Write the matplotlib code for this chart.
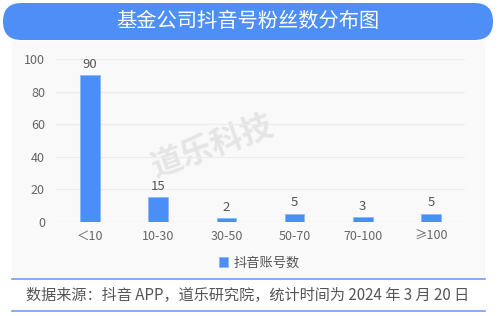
import matplotlib
matplotlib.use("Agg")
import matplotlib.pyplot as plt
from matplotlib.patches import FancyBboxPatch, Rectangle

plt.rcParams['font.family'] = ['Noto Sans CJK SC', 'DejaVu Sans']

categories = ['＜10', '10-30', '30-50', '50-70', '70-100', '≥100']
values = [90, 15, 2, 5, 3, 5]
yticks = [0, 20, 40, 60, 80, 100]
title = '基金公司抖音号粉丝数分布图'
series_name = '抖音账号数'
source = '数据来源：抖音 APP，道乐研究院，统计时间为 2024 年 3 月 20 日'
watermark = '道乐科技'

W, H = 500, 316
fig = plt.figure(figsize=(W/100, H/100), dpi=100)
fig.patch.set_facecolor('white')

def fx(px): return px / W
def fy(py): return 1 - py / H

# background layer in pixel coordinates
bg = fig.add_axes([0, 0, 1, 1], zorder=0)
bg.set_xlim(0, W)
bg.set_ylim(H, 0)
bg.axis('off')
bg.add_patch(Rectangle((12, 41), 473, 238, facecolor='#f9f9f9', edgecolor='none'))
bg.add_patch(FancyBboxPatch((3, 3), 490, 37,
                            boxstyle='round,pad=0,rounding_size=18.5',
                            facecolor='#4d8ff6', edgecolor='none'))
bg.text(248, 21.5, title, color='white', fontsize=14.6, ha='center', va='center')
bg.text(212, 147, watermark, rotation=20, fontsize=23, fontweight='bold', color='#e5e5e5',
        ha='center', va='center')
bg.plot([12, 485], [279, 279], color='#6aa2f5', linewidth=1.2)
bg.plot([12, 485], [311, 311], color='#6aa2f5', linewidth=1.2)
bg.text(247.5, 295.5, source, ha='center', va='center', fontsize=10.9, color='#555555')

ax = fig.add_axes([fx(56), fy(221.7), fx(465) - fx(56), fy(59) - fy(221.7)], zorder=1)
ax.set_facecolor('none')
x = list(range(len(categories)))
bars = ax.bar(x, values, width=0.29, color='#4b8ef7', edgecolor='#8fb8fb', linewidth=0.6,
              label=series_name, zorder=3)
for xi, v in zip(x, values):
    ax.text(xi, v + 2.5, str(v), ha='center', va='bottom', fontsize=9.5, color='#555555')
ax.set_xlim(-0.5, len(categories) - 0.5)
ax.set_ylim(0, 100)
ax.set_yticks(yticks)
ax.set_xticks(x)
ax.set_xticklabels(categories)
ax.tick_params(axis='both', length=0, labelsize=9, colors='#666666')
ax.tick_params(axis='y', pad=8)
ax.tick_params(axis='x', pad=6)
ax.grid(axis='y', color='#ececec', linewidth=0.8, zorder=0)
for s in ax.spines.values():
    s.set_visible(False)
ax.axhline(0, color='#e0e0e0', linewidth=0.8, zorder=2)

fig.legend(handles=[bars], labels=[series_name], loc='center', bbox_to_anchor=(fx(259), fy(263)),
           frameon=False, fontsize=9.5, handlelength=0.7, handleheight=0.7, handletextpad=0.4,
           labelcolor='#555555')

fig.savefig('out.png', dpi=100)
